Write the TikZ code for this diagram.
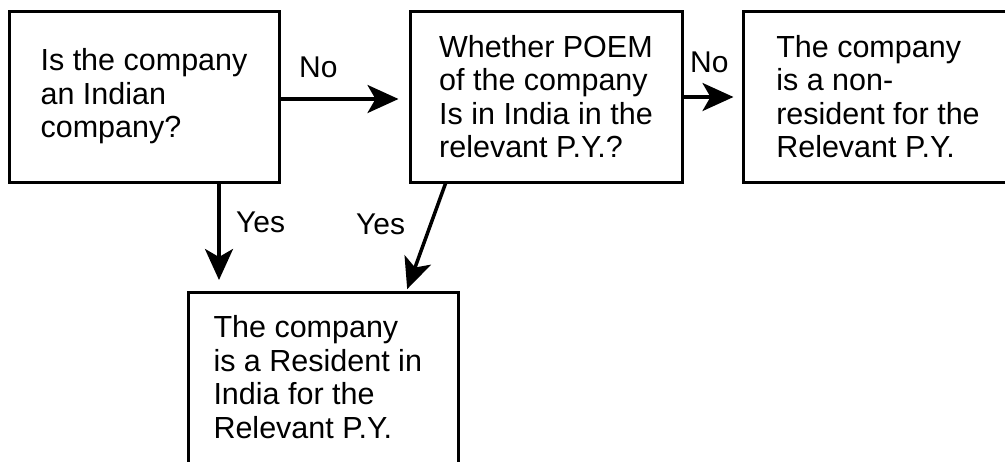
\documentclass[tikz,border=0pt]{standalone}
\usepackage{fontspec}
\setmainfont{Liberation Sans}
\usetikzlibrary{arrows.meta,calc}
\begin{document}
\begin{tikzpicture}[x=1pt,y=-1pt,
  box/.style={draw, line width=3pt, rectangle, align=left, font=\fontsize{30.5}{33.5}\selectfont, inner sep=0pt},
  lbl/.style={font=\fontsize{30}{33}\selectfont, inner sep=0pt},
  arr/.style={line width=3.5pt, -{Stealth[length=31pt,width=28pt,inset=8pt]}}]
\useasboundingbox (0,0) rectangle (1005,461);
\clip (0,0) rectangle (1005,461);
\node[box, minimum width=270pt, minimum height=171pt] (a) at (144,96.5) {Is the company\\an Indian\\company?};
\node[box, minimum width=272pt, minimum height=171pt] (b) at (546,96.5) {Whether POEM\\of the company\\Is in India in the\\relevant P.Y.?};
\node[box, minimum width=270pt, minimum height=171pt] (c) at (878,96.5) {The company\\is a non-\\resident for the\\Relevant P.Y.};
\node[draw, line width=3pt, minimum width=270pt, minimum height=200pt, anchor=north] (d) at (323,291) {};
\node[box, draw=none, anchor=north west] (dt) at (212,314) {The company\\is a Resident in\\India for the\\Relevant P.Y.};
\draw[arr, shorten >=10pt] ([yshift=-2.5pt]a.east) -- ([yshift=-2.5pt]b.west);
\draw[arr, shorten >=8pt] ([yshift=-0.5pt]b.east) -- ([yshift=-0.5pt]c.west);
\draw[arr, shorten >=11pt] ([xshift=75pt]a.south) -- ([xshift=75pt]a.south |- d.north);
\draw[arr, shorten >=2pt] ([xshift=37pt]b.south west) -- ([xshift=-53pt]d.north east);
\node[lbl, anchor=base west] (no1) at (299,77) {No};
\node[lbl, anchor=base west] (no2) at (690,72) {No};
\node[lbl, anchor=base west] (yes1) at (236,232) {Yes};
\node[lbl, anchor=base west] (yes2) at (356,234) {Yes};
\end{tikzpicture}
\end{document}
